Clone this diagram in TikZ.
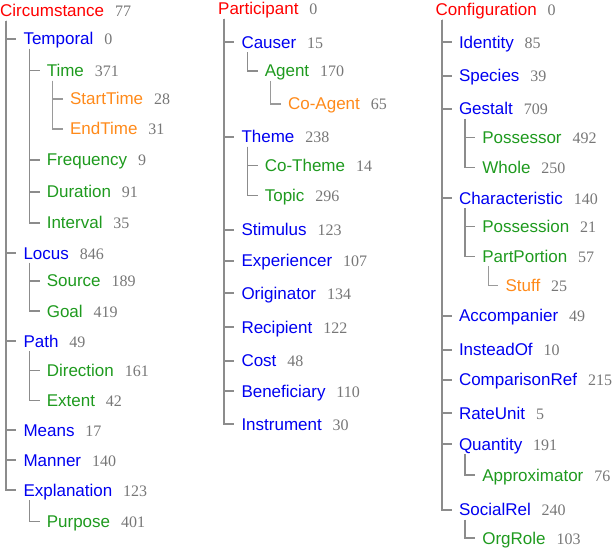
\documentclass[tikz,border=0pt]{standalone}
\usepackage{fontspec}
\setmainfont{Liberation Sans}
\newfontfamily\numfont{Liberation Serif}
\usetikzlibrary{calc}
\definecolor{cred}{HTML}{FF0000}
\definecolor{cblue}{HTML}{0000F0}
\definecolor{cgreen}{HTML}{1E9A1E}
\definecolor{corange}{HTML}{FF8A1A}
\definecolor{cnum}{HTML}{777777}
\definecolor{clineA}{HTML}{8C8C8C}
\definecolor{clineB}{HTML}{9A9A9A}
\newcommand\tnode[5]{\node[#1] (#2) at (#3) {#4}; \node[numlbl] (#2-n) at (#2.base east) {#5};}
\newcommand\tlink[3]{\draw[#1] ($(#2.base west)+(6.3,4)$) |- ($(#3.base west)+(-7,-6)$);}
\begin{document}
\begin{tikzpicture}[x=1pt,y=-1pt,
  lbl/.style={anchor=base west,inner sep=0pt,font=\fontsize{17}{20}\selectfont},
  rlbl/.style={lbl,text=cred},
  blbl/.style={lbl,text=cblue},
  glbl/.style={lbl,text=cgreen},
  olbl/.style={lbl,text=corange},
  numlbl/.style={anchor=base west,inner sep=0pt,xshift=10.5pt,font=\numfont\fontsize{16}{19}\selectfont,text=cnum},
  lzero/.style={draw=clineA,line width=2pt},
  lone/.style={draw=clineA,line width=1.5pt},
  ltwo/.style={draw=clineB,line width=1.1pt}]
\useasboundingbox (0,0) rectangle (616,548);
% column 1
\tnode{rlbl}{circ}{0,16.7}{Circumstance}{77}
\tnode{blbl}{temp}{23.3,45}{Temporal}{0}
\tnode{glbl}{time}{46.6,76.7}{Time}{371}
\tnode{olbl}{startt}{69.9,105}{StartTime}{28}
\tnode{olbl}{endt}{69.9,135}{EndTime}{31}
\tnode{glbl}{freq}{46.6,166}{Frequency}{9}
\tnode{glbl}{dur}{46.6,198}{Duration}{91}
\tnode{glbl}{intv}{46.6,229}{Interval}{35}
\tnode{blbl}{locus}{23.3,259}{Locus}{846}
\tnode{glbl}{src}{46.6,287}{Source}{189}
\tnode{glbl}{goal}{46.6,317}{Goal}{419}
\tnode{blbl}{path}{23.3,347}{Path}{49}
\tnode{glbl}{dir}{46.6,376.7}{Direction}{161}
\tnode{glbl}{ext}{46.6,406.7}{Extent}{42}
\tnode{blbl}{means}{23.3,436}{Means}{17}
\tnode{blbl}{manner}{23.3,466}{Manner}{140}
\tnode{blbl}{expl}{23.3,496}{Explanation}{123}
\tnode{glbl}{purp}{46.6,527.7}{Purpose}{401}
% column 2
\tnode{rlbl}{part}{218,15}{Participant}{0}
\tnode{blbl}{causer}{241.3,48.3}{Causer}{15}
\tnode{glbl}{agent}{264.6,77}{Agent}{170}
\tnode{olbl}{coag}{287.9,110}{Co-Agent}{65}
\tnode{blbl}{theme}{241.3,142.7}{Theme}{238}
\tnode{glbl}{cotheme}{264.6,171.7}{Co-Theme}{14}
\tnode{glbl}{topic}{264.6,201.7}{Topic}{296}
\tnode{blbl}{stim}{241.3,236}{Stimulus}{123}
\tnode{blbl}{exper}{241.3,266.7}{Experiencer}{107}
\tnode{blbl}{orig}{241.3,299}{Originator}{134}
\tnode{blbl}{recip}{241.3,333}{Recipient}{122}
\tnode{blbl}{cost}{241.3,366.7}{Cost}{48}
\tnode{blbl}{benef}{241.3,397}{Beneficiary}{110}
\tnode{blbl}{instr}{241.3,430}{Instrument}{30}
% column 3
\tnode{rlbl}{conf}{435.5,15.7}{Configuration}{0}
\tnode{blbl}{ident}{458.8,48.3}{Identity}{85}
\tnode{blbl}{species}{458.8,81.7}{Species}{39}
\tnode{blbl}{gestalt}{458.8,115}{Gestalt}{709}
\tnode{glbl}{possr}{482.1,143.3}{Possessor}{492}
\tnode{glbl}{whole}{482.1,173.3}{Whole}{250}
\tnode{blbl}{charac}{458.8,204.3}{Characteristic}{140}
\tnode{glbl}{posn}{482.1,232.3}{Possession}{21}
\tnode{glbl}{partp}{482.1,262.3}{PartPortion}{57}
\tnode{olbl}{stuff}{505.4,291.7}{Stuff}{25}
\tnode{blbl}{accomp}{458.8,321.7}{Accompanier}{49}
\tnode{blbl}{instead}{458.8,355.7}{InsteadOf}{10}
\tnode{blbl}{compar}{458.8,385.7}{ComparisonRef}{215}
\tnode{blbl}{rate}{458.8,419.3}{RateUnit}{5}
\tnode{blbl}{quant}{458.8,450}{Quantity}{191}
\tnode{glbl}{approx}{482.1,481}{Approximator}{76}
\tnode{blbl}{social}{458.8,515.7}{SocialRel}{240}
\tnode{glbl}{orgrole}{482.1,544}{OrgRole}{103}
% connectors column 1
\foreach \c in {temp,locus,path,means,manner,expl} {\tlink{lzero}{circ}{\c}}
\foreach \c in {time,freq,dur,intv} {\tlink{lone}{temp}{\c}}
\foreach \c in {startt,endt} {\tlink{ltwo}{time}{\c}}
\foreach \c in {src,goal} {\tlink{lone}{locus}{\c}}
\foreach \c in {dir,ext} {\tlink{lone}{path}{\c}}
\tlink{lone}{expl}{purp}
% connectors column 2
\foreach \c in {causer,theme,stim,exper,orig,recip,cost,benef,instr} {\tlink{lzero}{part}{\c}}
\tlink{lone}{causer}{agent}
\tlink{ltwo}{agent}{coag}
\foreach \c in {cotheme,topic} {\tlink{lone}{theme}{\c}}
% connectors column 3
\foreach \c in {ident,species,gestalt,charac,accomp,instead,compar,rate,quant,social} {\tlink{lzero}{conf}{\c}}
\foreach \c in {possr,whole} {\tlink{lone}{gestalt}{\c}}
\foreach \c in {posn,partp} {\tlink{lone}{charac}{\c}}
\tlink{ltwo}{partp}{stuff}
\tlink{lone}{quant}{approx}
\tlink{lone}{social}{orgrole}
\end{tikzpicture}
\end{document}
